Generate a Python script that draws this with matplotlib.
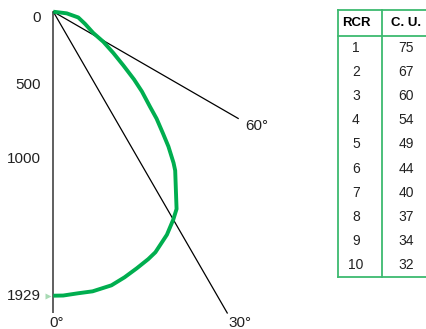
import matplotlib
matplotlib.use('Agg')
import matplotlib.pyplot as plt
import numpy as np

plt.rcParams['font.family'] = ['Liberation Sans Narrow', 'Liberation Sans', 'DejaVu Sans']

# candela distribution, angle from nadir
angles = [0, 2, 5, 8, 12, 15, 18, 21, 23, 27, 30, 32, 34.5, 37.5, 38.5, 40.5,
          42, 44, 45.5, 48, 50, 52.5, 55.5, 59, 62, 69, 77, 83, 90]
candela = [1929, 1929, 1920, 1918, 1900, 1868, 1833, 1800, 1775, 1700, 1630,
           1580, 1470, 1360, 1312, 1204, 1114, 1010, 921, 810, 716, 600, 494,
           396, 307, 231, 174, 92, 0]

axis_ticks = [0, 500, 1000, 1929]
ref_angles = [0, 30, 60]
ref_lengths = [2046, 2363, 1450]

rcr = [1, 2, 3, 4, 5, 6, 7, 8, 9, 10]
cu = [75, 67, 60, 54, 49, 44, 40, 37, 34, 32]

GREEN = '#00ae4f'
TABLE_GREEN = '#3dba6f'

W, H = 426, 329
k = 1929 / 284.0          # candela per pixel
ox, oy = 53.3, 11.7       # origin in pixels

fig = plt.figure(figsize=(W / 100, H / 100), dpi=100)
ax = fig.add_axes([0, 0, 1, 1])
ax.set_xlim(-ox * k, (W - ox) * k)
ax.set_ylim((H - oy) * k, -oy * k)
ax.axis('off')

# reference lines
for a, L in zip(ref_angles, ref_lengths):
    t = np.radians(a)
    if a == 0:
        ax.plot([0, 0], [0, L], color='#444444', lw=1.2, solid_capstyle='butt')
    else:
        ax.plot([0, L * np.sin(t)], [0, L * np.cos(t)], color='black', lw=0.9)

# angle labels
offs = {0: (3, -10, 'center'), 30: (13, -10, 'center'), 60: (7, -8, 'left')}
for a, L in zip(ref_angles, ref_lengths):
    t = np.radians(a)
    dx, dy, ha = offs[a]
    ax.annotate(f'{a}°', xy=(L * np.sin(t), L * np.cos(t)), xytext=(dx, dy),
                textcoords='offset pixels', ha=ha, va='center', fontsize=11,
                color='#222222', annotation_clip=False)

# curve
th = np.radians(angles)
cd = np.array(candela)
ax.plot(cd * np.sin(th), cd * np.cos(th), color=GREEN, lw=2.8,
        solid_joinstyle='round', solid_capstyle='butt')

# axis labels
for v in axis_ticks:
    if v == 0:
        ax.text(-84, -2, '0', ha='right', va='top', fontsize=11, color='#222222')
    else:
        ax.text(-84, v, str(v), ha='right', va='center', fontsize=11, color='#222222')
ax.plot([-36], [1929], marker='>', ms=4, color='#a8dab4', mec='none')

# table
tb = fig.add_axes([0, 0, 1, 1], facecolor='none')
tb.set_xlim(0, W)
tb.set_ylim(H, 0)
tb.axis('off')
top, head, bottom = 10, 36, 277
left, mid, right = 338, 381.7, 430
for y in [top, head, bottom]:
    tb.plot([left, right], [y, y], color=TABLE_GREEN, lw=1.3)
for x in [left, mid]:
    tb.plot([x, x], [top, bottom], color=TABLE_GREEN, lw=1.3)

tb.text(356, 23.5, 'RCR', ha='center', va='center', fontsize=9.5, fontweight='bold')
tb.text(406, 23.5, 'C. U.', ha='center', va='center', fontsize=9.5, fontweight='bold')
row_h = (bottom - head) / len(rcr)
for i, (r, c) in enumerate(zip(rcr, cu)):
    y = head + row_h * (i + 0.5)
    tb.text(356, y, str(r), ha='center', va='center', fontsize=10, color='#222222')
    tb.text(406, y, str(c), ha='center', va='center', fontsize=10, color='#222222')

fig.savefig('out.png', dpi=100)
